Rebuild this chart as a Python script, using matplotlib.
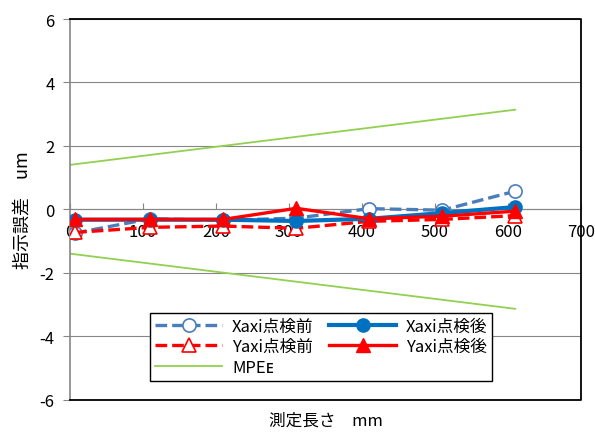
import matplotlib
matplotlib.use("Agg")
import matplotlib.pyplot as plt
from matplotlib.lines import Line2D

plt.rcParams['font.family'] = ['Noto Sans CJK JP', 'DejaVu Sans']
plt.rcParams['axes.unicode_minus'] = False

# measured length (mm) and indication error (um)
length = [7, 110, 210, 310, 410, 510, 610]
x_before = [-0.75, -0.3, -0.35, -0.28, 0.02, -0.03, 0.57]
x_after = [-0.33, -0.33, -0.33, -0.37, -0.3, -0.12, 0.07]
y_before = [-0.73, -0.57, -0.53, -0.6, -0.38, -0.32, -0.2]
y_after = [-0.32, -0.32, -0.32, 0.03, -0.3, -0.22, -0.06]

mpe_x = [0, 610]
mpe_upper = [1.4, 3.14]
mpe_lower = [-1.4, -3.14]

fig = plt.figure(figsize=(5.95, 4.35), dpi=100)
ax = fig.add_axes([0.1176, 0.0793, 0.8588, 0.8747])

blue_dash = '#4A7EBB'
blue = '#0070C0'
red = '#FF0000'
green = '#92D050'

ax.plot(length, x_before, color=blue_dash, lw=2.4, ls=(0, (3.5, 1.5)),
        marker='o', ms=9.5, mfc='white', mec=blue_dash, mew=1.2,
        label='Xaxi点検前', zorder=3)
ax.plot(length, y_before, color=red, lw=2.4, ls=(0, (3.5, 1.5)),
        marker='^', ms=9.5, mfc='white', mec=red, mew=1.2,
        label='Yaxi点検前', zorder=3)
ax.plot(mpe_x, mpe_upper, color=green, lw=1.3, label='MPEᴇ', zorder=2)
ax.plot(mpe_x, mpe_lower, color=green, lw=1.3, zorder=2)
ax.plot(length, x_after, color=blue, lw=3, marker='o', ms=9.5,
        label='Xaxi点検後', zorder=4)
ax.plot(length, y_after, color=red, lw=2.4, marker='^', ms=9.5,
        label='Yaxi点検後', zorder=5)

ax.set_xlim(0, 700)
ax.set_ylim(-6, 6)
ax.set_xticks(range(0, 701, 100))
ax.set_yticks(range(-6, 7, 2))
ax.grid(axis='y', color='#868686', lw=0.8)
ax.set_axisbelow(True)

# horizontal axis crosses at zero
for side in ['top', 'right', 'bottom', 'left']:
    ax.spines[side].set_visible(False)
ax.spines['bottom'].set_visible(True)
ax.spines['bottom'].set_position(('data', 0))
ax.spines['bottom'].set_color('#868686')
ax.spines['left'].set_visible(True)
ax.spines['left'].set_color('#868686')
ax.spines['left'].set_linewidth(1.2)

frame = Line2D([0, 1, 1, 0], [1, 1, 0, 0], transform=ax.transAxes,
               color='black', lw=1.3, clip_on=False, zorder=6)
ax.add_line(frame)

ax.tick_params(axis='x', direction='in', length=4, color='#868686',
               labelsize=12, pad=10)
ax.tick_params(axis='y', direction='out', length=5, color='#868686',
               labelsize=12, pad=6)

ax.set_ylabel('指示誤差　um', fontsize=13, labelpad=6)
fig.text(0.547, 0.012, '測定長さ　mm', fontsize=12, ha='center', va='bottom')

leg = ax.legend(ncol=2, loc='lower left',
                bbox_to_anchor=(0.141, 0.028, 0.702, 0.176), mode='expand',
                fontsize=12, frameon=True, fancybox=False, edgecolor='black',
                framealpha=1, handlelength=4, borderpad=0.3,
                labelspacing=0.2, columnspacing=1.5, handletextpad=0.6)
leg.get_frame().set_linewidth(1.0)

fig.savefig('out.png', dpi=100)
